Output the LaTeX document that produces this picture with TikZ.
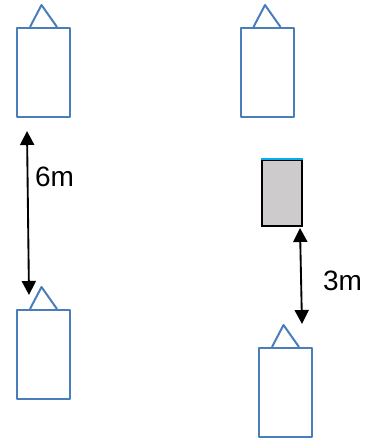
\documentclass[tikz,border=0pt]{standalone}
\usepackage{fontspec}
\setmainfont{Liberation Sans}
\usetikzlibrary{arrows.meta,calc}
\definecolor{carblue}{HTML}{4A7EBB}
\definecolor{blockgrey}{HTML}{CDCBCB}
\definecolor{blockcyan}{HTML}{00B0F0}

\begin{document}
\begin{tikzpicture}[x=0.75pt,y=-0.75pt]
  \useasboundingbox (0,0) rectangle (369,443);
  \begin{scope}[
    every node/.style={
      draw=carblue,
      line width=1.5pt,
      rectangle,
      inner sep=0pt,
      minimum width=39.75pt,
      minimum height=66.75pt,
    },
    every path/.style={carblue,line width=1.5pt,line join=round},
    ]
    \foreach \n/\x/\y in {1/43.5/72.5,2/267/72.5,3/43.5/354.5,4/285.5/392.5}{
      \node(car\n) at (\x,\y) {};
      \draw ($(car\n.north)+(-13.5,0)$) -- ($(car\n.north)+(-2,-22)$)
        -- ($(car\n.north)+(13.5,0)$);
    };
  \end{scope}
  % parked block
  \node[draw=black,fill=blockgrey,line width=1.2pt,inner sep=0pt,
    minimum width=30pt,minimum height=49.5pt] (block) at (282,193) {};
  \draw[blockcyan,line width=1.2pt] (block.north west) -- (block.north east);
  % gaps
  \begin{scope}[every path/.style={draw,line width=1.4pt,
      {Triangle[width=10.5pt,length=10.5pt]}-{Triangle[width=10.5pt,length=10.5pt]}}]
    \coordinate(gap1-top) at (27,131);
    \coordinate(gap1-bot) at (29,295);
    \coordinate(gap2-top) at (300,228);
    \coordinate(gap2-bot) at (302,324);
    \path (gap1-top) -- (gap1-bot);
    \path (gap2-top) -- (gap2-bot);
  \end{scope}
  \node[inner sep=0pt,font=\fontsize{21}{25}\selectfont] (gap1-label) at (54.5,177) {6m};
  \node[inner sep=0pt,font=\fontsize{21}{25}\selectfont] (gap2-label) at (342.5,281) {3m};
\end{tikzpicture}
\end{document}
